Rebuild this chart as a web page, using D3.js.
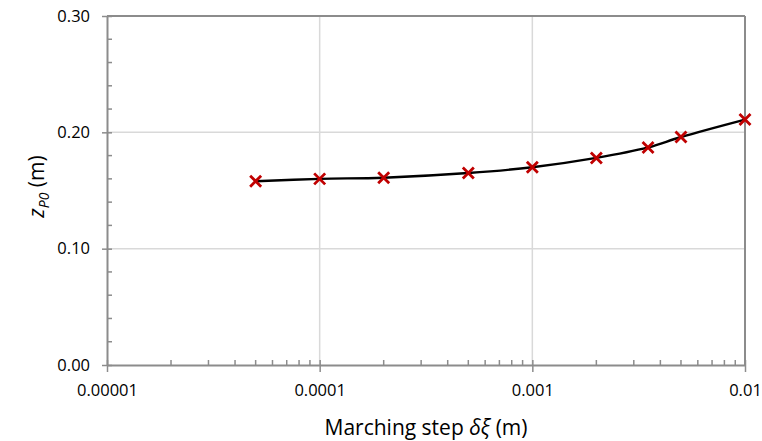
<!DOCTYPE html>
<html>
<head>
<meta charset="utf-8">
<script src="https://cdn.jsdelivr.net/npm/d3@7"></script>
<style>
  html, body { margin: 0; padding: 0; background: #fff; }
  svg { display: block; font-family: "Open Sans", "Lato", sans-serif; }
</style>
</head>
<body>
<svg id="chart" width="762" height="441"></svg>
<script>
// Marching step (m) and resulting z_P0 (m)
const steps = [0.00005, 0.0001, 0.0002, 0.0005, 0.001, 0.002, 0.0035, 0.005, 0.01];
const zP0   = [0.158, 0.160, 0.161, 0.165, 0.170, 0.178, 0.187, 0.196, 0.211];

const xTickValues = [0.00001, 0.0001, 0.001, 0.01];
const xTickLabels = ["0.00001", "0.0001", "0.001", "0.01"];
const yTickValues = [0, 0.1, 0.2, 0.3];
const yTickLabels = ["0.00", "0.10", "0.20", "0.30"];

const svg = d3.select("#chart");
const m = { left: 107, right: 17, top: 16, bottom: 76 };
const W = 762, H = 441;
const iw = W - m.left - m.right, ih = H - m.top - m.bottom;

const x = d3.scaleLog().domain([0.00001, 0.01]).range([m.left, m.left + iw]);
const y = d3.scaleLinear().domain([0, 0.3]).range([m.top + ih, m.top]);

const axisColor = "#8c8c8c";
const gridColor = "#d9d9d9";

// gridlines
const grid = svg.append("g");
grid.selectAll("line.gx").data(xTickValues.slice(1, -1)).join("line")
  .attr("x1", d => x(d)).attr("x2", d => x(d))
  .attr("y1", m.top).attr("y2", m.top + ih)
  .attr("stroke", gridColor).attr("stroke-width", 1.5);
grid.selectAll("line.gy").data(yTickValues.slice(1, -1)).join("line")
  .attr("x1", m.left).attr("x2", m.left + iw)
  .attr("y1", d => y(d)).attr("y2", d => y(d))
  .attr("stroke", gridColor).attr("stroke-width", 1.5);

// plot frame (top and right)
svg.append("line").attr("x1", m.left).attr("x2", m.left + iw)
  .attr("y1", m.top).attr("y2", m.top).attr("stroke", axisColor).attr("stroke-width", 2);
svg.append("line").attr("x1", m.left + iw).attr("x2", m.left + iw)
  .attr("y1", m.top).attr("y2", m.top + ih).attr("stroke", axisColor).attr("stroke-width", 2);

// minor ticks
const xMinor = [];
for (let e = -5; e < -2; e++) for (let k = 2; k <= 9; k++) xMinor.push(k * Math.pow(10, e));
const yMinor = d3.range(0, 0.3001, 0.02).filter(v => Math.abs(v * 10 - Math.round(v * 10)) > 1e-6);

// x axis
const xAxis = d3.axisBottom(x).tickValues(xTickValues)
  .tickFormat((d, i) => xTickLabels[i]).tickSizeInner(5).tickSizeOuter(0).tickPadding(14);
const gx = svg.append("g").attr("transform", `translate(0,${m.top + ih})`).call(xAxis);
gx.select(".domain").attr("stroke", axisColor).attr("stroke-width", 2);
gx.selectAll(".tick line").attr("stroke", axisColor).attr("stroke-width", 1.5).attr("y1", -5).attr("y2", 7);
gx.selectAll(".tick text").attr("font-size", 16.5).attr("fill", "#000")
  .attr("font-family", "Open Sans, Lato, sans-serif");
gx.selectAll("line.minor").data(xMinor).join("line").attr("class", "minor")
  .attr("x1", d => x(d)).attr("x2", d => x(d)).attr("y1", 0).attr("y2", -5)
  .attr("stroke", axisColor).attr("stroke-width", 1.5);

// y axis
const yAxis = d3.axisLeft(y).tickValues(yTickValues)
  .tickFormat((d, i) => yTickLabels[i]).tickSizeInner(5).tickSizeOuter(0).tickPadding(12);
const gy = svg.append("g").attr("transform", `translate(${m.left},0)`).call(yAxis);
gy.select(".domain").attr("stroke", axisColor).attr("stroke-width", 2);
gy.selectAll(".tick line").attr("stroke", axisColor).attr("stroke-width", 1.5).attr("x1", 5).attr("x2", -5);
gy.selectAll(".tick text").attr("font-size", 16.5).attr("fill", "#000")
  .attr("font-family", "Open Sans, Lato, sans-serif");
gy.selectAll("line.minor").data(yMinor).join("line").attr("class", "minor")
  .attr("x1", 0).attr("x2", 5).attr("y1", d => y(d)).attr("y2", d => y(d))
  .attr("stroke", axisColor).attr("stroke-width", 1.5);

// smoothed line
const pts = steps.map((s, i) => [s, zP0[i]]);
const line = d3.line().x(d => x(d[0])).y(d => y(d[1])).curve(d3.curveCatmullRom.alpha(0.5));
svg.append("path").datum(pts).attr("d", line)
  .attr("fill", "none").attr("stroke", "#000").attr("stroke-width", 2.4);

// markers
const r = 5.5;
const mk = svg.append("g").selectAll("g").data(pts).join("g")
  .attr("transform", d => `translate(${x(d[0])},${y(d[1])})`);
mk.append("path").attr("d", `M${-r},${-r}L${r},${r}M${-r},${r}L${r},${-r}`)
  .attr("stroke", "#c00000").attr("stroke-width", 2.8).attr("fill", "none");

// axis titles
const xt = svg.append("text").attr("x", m.left + iw / 2).attr("y", 435)
  .attr("text-anchor", "middle").attr("font-size", 21).attr("fill", "#000");
xt.append("tspan").text("Marching step ");
xt.append("tspan").attr("font-style", "italic").text("δξ");
xt.append("tspan").text(" (m)");

const yt = svg.append("text").attr("transform", `translate(44,${m.top + ih / 2 - 4}) rotate(-90)`)
  .attr("text-anchor", "middle").attr("font-size", 21).attr("fill", "#000");
yt.append("tspan").attr("font-style", "italic").text("z");
yt.append("tspan").attr("font-style", "italic").attr("font-size", 14).attr("dy", 5).text("P0");
yt.append("tspan").attr("dy", -5).text(" (m)");
</script>
</body>
</html>
